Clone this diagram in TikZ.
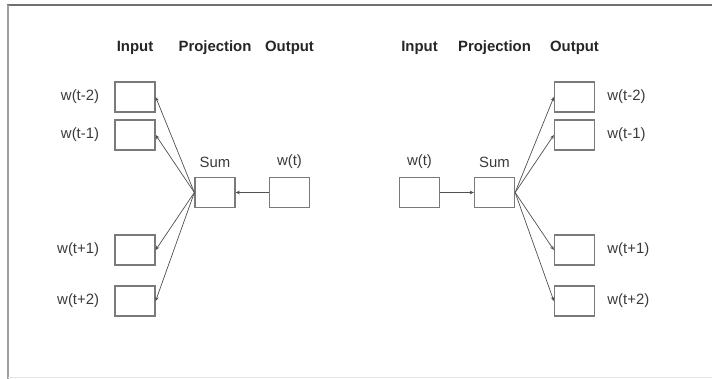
\documentclass[tikz,border=0pt]{standalone}
\usepackage{fontspec}
\setmainfont{Liberation Sans}
\usetikzlibrary{positioning,arrows.meta}
\definecolor{boxgray}{HTML}{7A7A7A}
\definecolor{linkgray}{HTML}{505050}
\definecolor{textgray}{HTML}{3A3A3A}
\definecolor{framegray}{HTML}{707070}
\begin{document}
\begin{tikzpicture}[x=0.025cm, y=-0.025cm,
  every node/.style={font=\fontsize{10.6}{12}\selectfont, text=textgray},
  head/.style={font=\fontsize{10.6}{12}\selectfont\bfseries, text=black!85},
  wordbox/.style={draw=boxgray, line width=0.9pt, minimum width=1cm, minimum height=0.75cm, inner sep=0pt},
  wordlabel/.style={inner sep=0pt},
  link/.style={-{Stealth[length=3pt,width=2.6pt]}, draw=linkgray, line width=0.5pt}]
  \useasboundingbox (0,0) rectangle (712,379);

  % frame
  \draw[framegray, line width=1.4pt] (7,5) -- (712,5);
  \draw[gray!75, line width=1.4pt] (8,5) -- (8,379);
  \draw[gray!20, line width=0.5pt] (8,377.5) -- (712,377.5);

  % CBOW
  \node[head] (cbowIn) at (135,48) {Input};
  \node[head] (cbowProj) at (215,48) {Projection};
  \node[head] (cbowOut) at (289.5,48) {Output};

  \node[wordbox] (cbowA) at (135,97) {};
  \node[wordbox] (cbowB) at (135,135) {};
  \node[wordbox] (cbowC) at (135,250) {};
  \node[wordbox] (cbowD) at (135,301) {};
  \node[wordlabel, left=0.375cm of cbowA] (cbowAtxt) {w(t-2)};
  \node[wordlabel, left=0.375cm of cbowB] (cbowBtxt) {w(t-1)};
  \node[wordlabel, left=0.375cm of cbowC] (cbowCtxt) {w(t+1)};
  \node[wordlabel, left=0.375cm of cbowD] (cbowDtxt) {w(t+2)};

  \node[wordbox] (cbowSum) at (215,192.5) {};
  \node[wordbox] (cbowW) at (289.5,192.5) {};
  \node (cbowSumtxt) at (215,162) {Sum};
  \node (cbowWtxt) at (289.5,162) {w(t)};

  \draw[link] (cbowW.west) -- (cbowSum.east);
  \draw[link] (cbowSum.west) -- (cbowA.east);
  \draw[link] (cbowSum.west) -- (cbowB.east);
  \draw[link] (cbowSum.west) -- (cbowC.east);
  \draw[link] (cbowSum.west) -- (cbowD.east);

  % Skip-gram
  \node[head] (skipIn) at (419.5,48) {Input};
  \node[head] (skipProj) at (494.5,48) {Projection};
  \node[head] (skipOut) at (574.5,48) {Output};

  \node[wordbox] (skipW) at (419.5,192.5) {};
  \node[wordbox] (skipSum) at (494.5,192.5) {};
  \node (skipWtxt) at (419.5,162) {w(t)};
  \node (skipSumtxt) at (494.5,162) {Sum};

  \node[wordbox] (skipA) at (574.5,97) {};
  \node[wordbox] (skipB) at (574.5,135) {};
  \node[wordbox] (skipC) at (574.5,250) {};
  \node[wordbox] (skipD) at (574.5,301) {};
  \node[wordlabel, right=0.3cm of skipA] (skipAtxt) {w(t-2)};
  \node[wordlabel, right=0.3cm of skipB] (skipBtxt) {w(t-1)};
  \node[wordlabel, right=0.3cm of skipC] (skipCtxt) {w(t+1)};
  \node[wordlabel, right=0.3cm of skipD] (skipDtxt) {w(t+2)};

  \draw[link] (skipW.east) -- (skipSum.west);
  \draw[link] (skipSum.east) -- (skipA.west);
  \draw[link] (skipSum.east) -- (skipB.west);
  \draw[link] (skipSum.east) -- (skipC.west);
  \draw[link] (skipSum.east) -- (skipD.west);
\end{tikzpicture}
\end{document}
